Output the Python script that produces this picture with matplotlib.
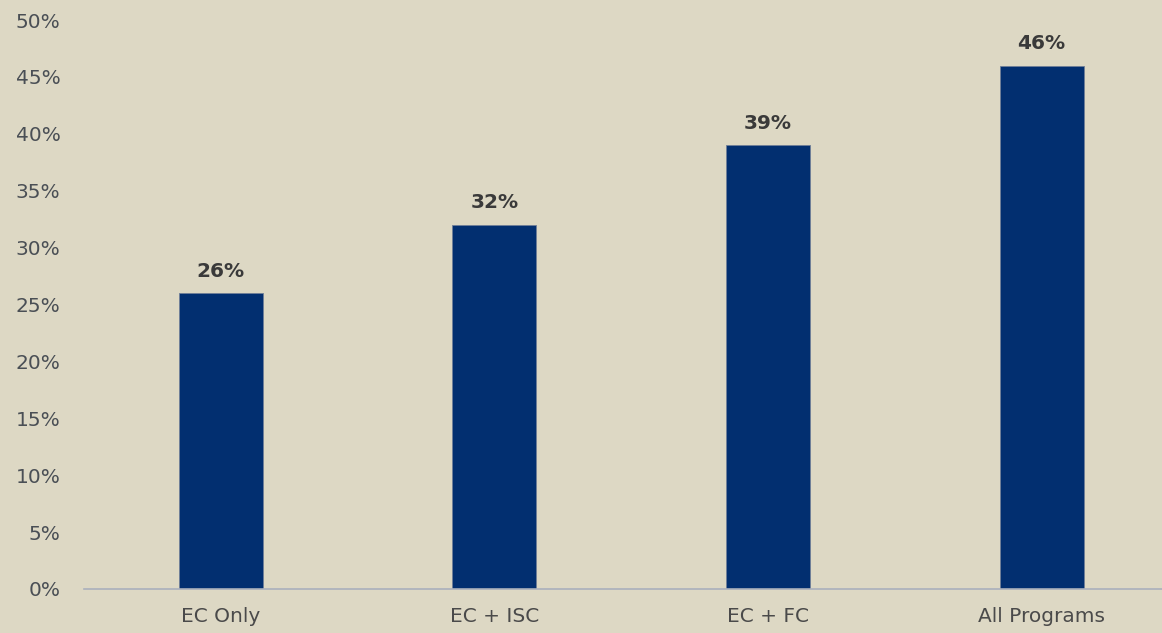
import matplotlib.pyplot as plt
import numpy as np

categories = ["EC Only", "EC + ISC", "EC + FC", "All Programs"]
values = [26, 32, 39, 46]
yticks = [0, 5, 10, 15, 20, 25, 30, 35, 40, 45, 50]

bg = "#ddd8c4"
bar_color = "#022f70"

fig = plt.figure(figsize=(11.62, 6.33), dpi=100, facecolor=bg)
ax = fig.add_axes([84 / 1162, 1 - 589 / 633, 1 - 84 / 1162, (589 - 20) / 633])
ax.set_facecolor(bg)

x = np.arange(len(categories))
ax.bar(x, values, width=0.307, color=bar_color, edgecolor="#6f7f98", linewidth=0.6)

for xi, v in zip(x, values):
    ax.annotate("{}%".format(v), (xi, v), xytext=(0, 9), textcoords="offset points",
                ha="center", va="bottom", fontsize=14.5, fontweight="bold", color="#3a3a3a")

ax.set_xlim(-0.5, 3.44)
ax.set_ylim(0, 50)
ax.set_yticks(yticks)
ax.set_yticklabels(["{}%".format(t) for t in yticks])
ax.set_xticks(x)
ax.set_xticklabels(categories)

for s in ["top", "right", "left"]:
    ax.spines[s].set_visible(False)
ax.spines["bottom"].set_color("#aab0bc")
ax.spines["bottom"].set_linewidth(1.2)

ax.tick_params(axis="y", length=0, pad=17, labelsize=14.5, labelcolor="#4a4f55")
ax.tick_params(axis="x", length=0, pad=13, labelsize=14.5, labelcolor="#4a4a4a")

fig.savefig("out.png", dpi=100, facecolor=bg)
